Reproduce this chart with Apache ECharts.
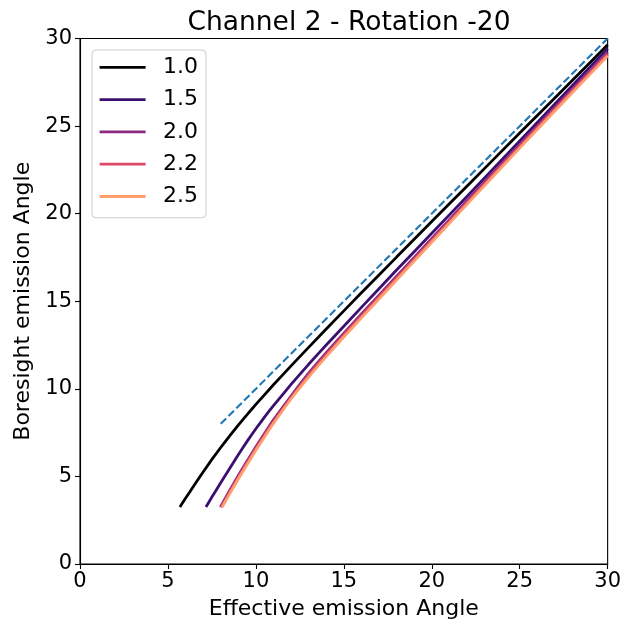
<!DOCTYPE html>
<html>
<head>
<meta charset="utf-8">
<script src="https://cdn.jsdelivr.net/npm/echarts@6/dist/echarts.min.js"></script>
<style>
html,body{margin:0;padding:0;background:#fff;}
#chart{width:624px;height:628px;}
</style>
</head>
<body>
<div id="chart"></div>
<script>
// Legend categories
var seriesNames = ['1.0', '1.5', '2.0', '2.2', '2.5'];
var seriesColors = ['#000000', '#3b0f70', '#8c2981', '#de4968', '#fe9f6d'];

// Effective emission angle (x) / Boresight emission angle (y) per series
var curve10 = [[5.68,3.25],[6,3.75],[6.5,4.51],[7,5.25],[7.5,5.97],[8,6.65],[8.5,7.30],[9,7.93],[9.5,8.53],[10,9.11],[11,10.23],[12,11.31],[14,13.42],[16,15.48],[18,17.52],[20,19.55],[22,21.57],[25,24.60],[28,27.62],[30,29.64]];
var curve15 = [[7.16,3.25],[7.5,3.82],[8,4.64],[8.5,5.44],[9,6.24],[9.5,7.00],[10,7.72],[10.5,8.40],[11,9.04],[12,10.25],[13,11.40],[14,12.50],[16,14.65],[18,16.78],[20,18.88],[22,20.98],[25,24.15],[28,27.32],[30,29.43]];
var curve20 = [[7.98,3.25],[8.5,4.18],[9,5.05],[9.5,5.88],[10,6.69],[10.5,7.47],[11,8.23],[12,9.59],[13,10.89],[14,12.06],[15,13.18],[16,14.27],[18,16.43],[20,18.58],[22,20.74],[25,23.94],[28,27.12],[30,29.20]];
var curve22 = [[8.03,3.25],[8.5,4.08],[9,4.95],[9.5,5.78],[10,6.59],[10.5,7.37],[11,8.12],[12,9.49],[13,10.78],[14,11.95],[15,13.07],[16,14.16],[18,16.32],[20,18.47],[22,20.63],[25,23.84],[28,27.02],[30,29.10]];
var curve25 = [[8.08,3.25],[8.5,3.99],[9,4.85],[9.5,5.68],[10,6.49],[10.5,7.27],[11,8.02],[12,9.42],[13,10.67],[14,11.84],[15,12.96],[16,14.05],[18,16.21],[20,18.37],[22,20.53],[25,23.74],[28,26.92],[30,29.00]];
var identityLine = [[8,8],[30,30]];

var curves = [curve10, curve15, curve20, curve22, curve25];

var FONT = 'DejaVu Sans';
var chart = echarts.init(document.getElementById('chart'), null, {renderer: 'canvas'});

var series = [{
  name: 'identity',
  type: 'line',
  data: identityLine,
  showSymbol: false,
  silent: true,
  lineStyle: {color: '#1f77b4', width: 2.1, type: [7.7, 3.3]},
  z: 1
}];
for (var i = 0; i < seriesNames.length; i++) {
  series.push({
    name: seriesNames[i],
    type: 'line',
    data: curves[i],
    showSymbol: false,
    smooth: 0.15,
    color: seriesColors[i],
    lineStyle: {color: seriesColors[i], width: 2.8},
    z: 2 + i
  });
}

chart.setOption({
  animation: false,
  backgroundColor: '#ffffff',
  title: {
    text: 'Channel 2 - Rotation -20',
    left: 344,
    textAlign: 'center',
    top: 5,
    textStyle: {fontFamily: FONT, fontSize: 26.5, fontWeight: 'normal', color: '#000'}
  },
  grid: {
    left: 80, right: 16, top: 38.5, bottom: 64,
    show: true, borderColor: '#000', borderWidth: 1.1, backgroundColor: 'transparent'
  },
  legend: {
    data: seriesNames,
    orient: 'vertical',
    left: 92,
    top: 50,
    padding: [6.3, 8, 10.3, 7.6],
    itemGap: 10.3,
    itemWidth: 46,
    itemHeight: 2.8,
    icon: 'rect',
    borderColor: '#cccccc',
    borderWidth: 1,
    borderRadius: 4,
    backgroundColor: '#ffffff',
    textStyle: {fontFamily: FONT, fontSize: 22, color: '#000', lineHeight: 22, padding: [0, 0, 0, 12.4]}
  },
  xAxis: {
    type: 'value',
    min: 0, max: 30, interval: 5,
    name: 'Effective emission Angle',
    nameLocation: 'middle',
    nameGap: 34,
    nameTextStyle: {fontFamily: FONT, fontSize: 22, color: '#000'},
    axisLine: {show: true, onZero: false, lineStyle: {color: '#000', width: 1.1}},
    axisTick: {show: true, inside: false, length: 5, lineStyle: {color: '#000', width: 1.1}},
    axisLabel: {fontFamily: FONT, fontSize: 21, color: '#000', margin: 7},
    splitLine: {show: false}
  },
  yAxis: {
    type: 'value',
    min: 0, max: 30, interval: 5,
    name: 'Boresight emission Angle',
    nameLocation: 'middle',
    nameGap: 44,
    nameTextStyle: {fontFamily: FONT, fontSize: 22, color: '#000'},
    axisLine: {show: true, onZero: false, lineStyle: {color: '#000', width: 1.1}},
    axisTick: {show: true, inside: false, length: 5, lineStyle: {color: '#000', width: 1.1}},
    axisLabel: {fontFamily: FONT, fontSize: 21, color: '#000', margin: 8},
    splitLine: {show: false}
  },
  series: series
});
</script>
</body>
</html>
